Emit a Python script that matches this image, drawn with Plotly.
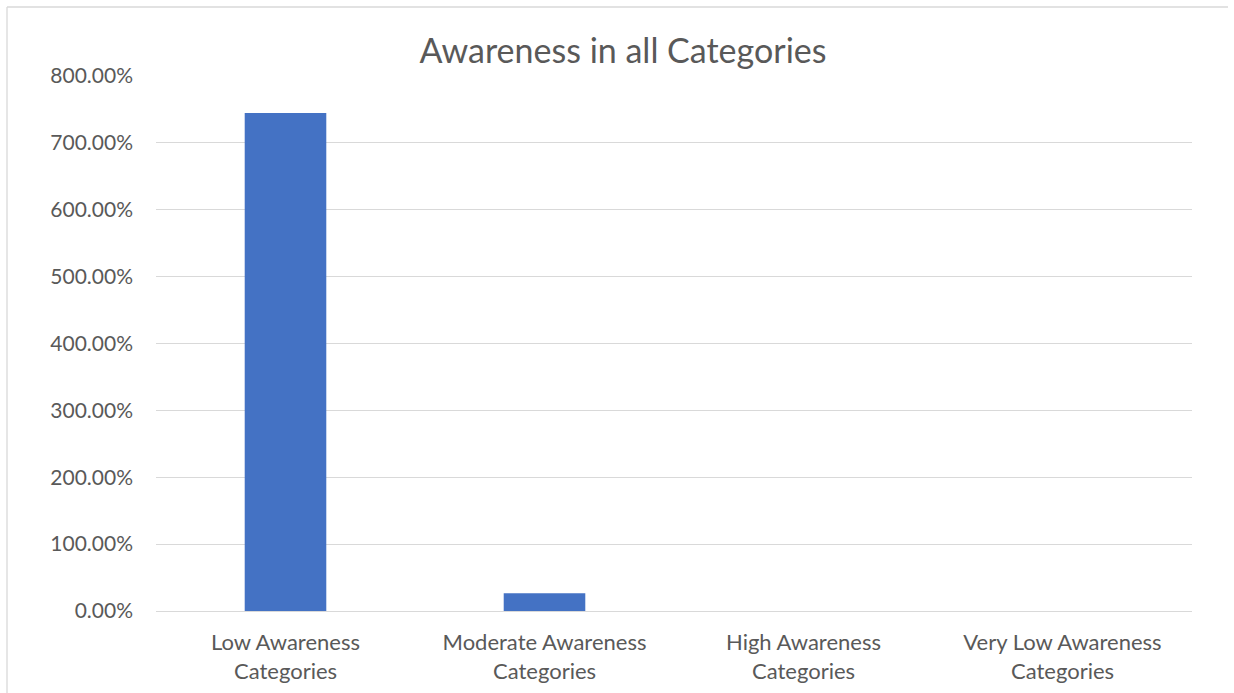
import plotly.graph_objects as go

# Awareness share per category (percent)
categories = [
    "Low Awareness<br>Categories",
    "Moderate Awareness<br>Categories",
    "High Awareness<br>Categories",
    "Very Low Awareness<br>Categories",
]
awareness_pct = [744.5, 26.5, 0.0, 0.0]
y_ticks = [0, 100, 200, 300, 400, 500, 600, 700, 800]
y_tick_labels = [f"{v:.2f}%" for v in y_ticks]

W, H = 1234, 693
L, R, T, B = 156, 42, 76, 82
text_color = "#595959"
grid_color = "#d9d9d9"
font_family = "Lato, Calibri, Carlito, sans-serif"

fig = go.Figure(
    go.Bar(
        x=categories,
        y=awareness_pct,
        marker=dict(color="#4472c4", line=dict(width=0)),
        hoverinfo="x+y",
    )
)

fig.update_layout(
    width=W,
    height=H,
    margin=dict(l=L, r=R, t=T, b=B),
    paper_bgcolor="white",
    plot_bgcolor="white",
    bargap=0.685,
    showlegend=False,
    font=dict(family=font_family, color=text_color, size=21),
    title=dict(
        text="Awareness in all Categories",
        x=623 / W,
        xanchor="center",
        y=1 - 51 / H,
        yanchor="middle",
        font=dict(size=34, color=text_color, family=font_family),
    ),
    xaxis=dict(
        showgrid=False,
        showline=False,
        ticks="",
        automargin=False,
        ticklabelstandoff=16,
        tickfont=dict(size=22, color=text_color),
    ),
    yaxis=dict(
        range=[0, 800],
        tickvals=y_ticks,
        ticktext=y_tick_labels,
        showgrid=True,
        gridcolor=grid_color,
        gridwidth=1.3,
        zeroline=True,
        zerolinecolor=grid_color,
        zerolinewidth=1.3,
        showline=False,
        ticks="",
        automargin=False,
        ticklabelstandoff=22,
        tickfont=dict(size=21, color=text_color),
    ),
)

# Outer chart-area border (top and left edges visible)
px_x = lambda p: (p - L) / (W - L - R)
px_y = lambda p: 1 - (p - T) / (H - T - B)
fig.add_shape(type="line", xref="paper", yref="paper",
              x0=px_x(7), x1=px_x(1228), y0=px_y(7), y1=px_y(7),
              line=dict(color=grid_color, width=1.3))
fig.add_shape(type="line", xref="paper", yref="paper",
              x0=px_x(7), x1=px_x(7), y0=px_y(7), y1=px_y(700),
              line=dict(color=grid_color, width=1.3))

fig.write_html("out.html")
